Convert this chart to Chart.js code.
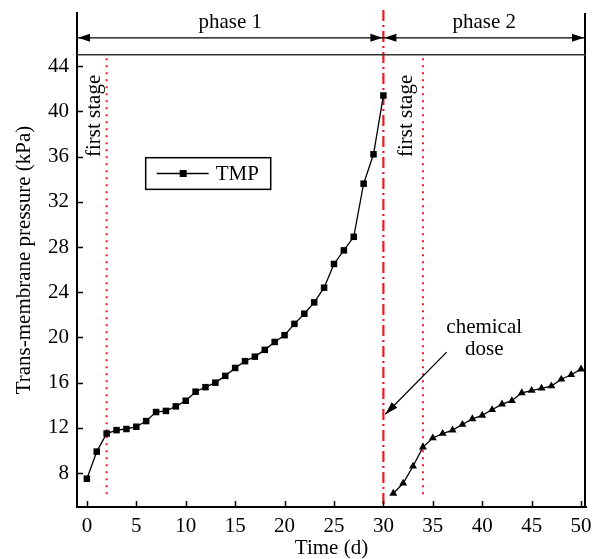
<!DOCTYPE html>
<html>
<head>
<meta charset="utf-8">
<script src="https://cdn.jsdelivr.net/npm/chart.js@4/dist/chart.umd.min.js"></script>
<style>
  body { margin: 0; background: #fff; }
  #box { width: 592px; height: 559px; }
</style>
</head>
<body>
<div id="box"><canvas id="grafico"></canvas></div>
<script>
// phase 1 (before chemical dose)
var dias1 = [0, 1, 2, 3, 4, 5, 6, 7, 8, 9, 10, 11, 12, 13, 14, 15, 16, 17, 18, 19, 20, 21, 22, 23, 24, 25, 26, 27, 28, 29, 30];
var tmp1 = [7.5, 9.9, 11.5, 11.8, 11.9, 12.1, 12.6, 13.4, 13.5, 13.9, 14.4, 15.2, 15.6, 16.0, 16.6, 17.3, 17.9, 18.3, 18.9, 19.6, 20.2, 21.2, 22.1, 23.1, 24.4, 26.5, 27.7, 28.9, 33.6, 36.2, 41.4];
// phase 2 (after chemical dose)
var dias2 = [31, 32, 33, 34, 35, 36, 37, 38, 39, 40, 41, 42, 43, 44, 45, 46, 47, 48, 49, 50];
var tmp2 = [6.2, 7.1, 8.6, 10.3, 11.1, 11.5, 11.8, 12.3, 12.8, 13.1, 13.6, 14.1, 14.4, 15.1, 15.3, 15.5, 15.7, 16.3, 16.7, 17.2];

var xTicks = [0, 5, 10, 15, 20, 25, 30, 35, 40, 45, 50];
var yTicks = [8, 12, 16, 20, 24, 28, 32, 36, 40, 44];
var diaDose = 30;
var diasFirstStage = [2, 34];
var fases = ["phase 1", "phase 2"];

var fonte = "'Liberation Serif', 'Times New Roman', serif";
var vermelho = "rgb(232, 28, 36)";

function pontos(xs, ys) {
  var lista = [];
  for (var i = 0; i < xs.length; i++) {
    lista.push({ x: xs[i], y: ys[i] });
  }
  return lista;
}

function seta(ctx, x1, y1, x2, y2, tam, larg) {
  var ang = Math.atan2(y2 - y1, x2 - x1);
  ctx.beginPath();
  ctx.moveTo(x2, y2);
  ctx.lineTo(x2 - tam * Math.cos(ang) + larg * Math.sin(ang), y2 - tam * Math.sin(ang) - larg * Math.cos(ang));
  ctx.lineTo(x2 - tam * Math.cos(ang) - larg * Math.sin(ang), y2 - tam * Math.sin(ang) + larg * Math.cos(ang));
  ctx.closePath();
  ctx.fill();
}

var anotacoes = {
  id: "anotacoes",
  beforeDatasetsDraw: function (chart) {
    var ctx = chart.ctx;
    var sx = chart.scales.x;
    var sy = chart.scales.y;
    var area = chart.chartArea;
    ctx.save();

    // linhas vermelhas pontilhadas (first stage)
    ctx.strokeStyle = vermelho;
    ctx.lineWidth = 2;
    ctx.setLineDash([2, 5]);
    for (var i = 0; i < diasFirstStage.length; i++) {
      var px = sx.getPixelForValue(diasFirstStage[i]);
      ctx.beginPath();
      ctx.moveTo(px, sy.getPixelForValue(44.7));
      ctx.lineTo(px, sy.getPixelForValue(5.8));
      ctx.stroke();
    }

    // traço-ponto no dia da dose química
    var pd = sx.getPixelForValue(diaDose);
    ctx.lineWidth = 2.2;
    ctx.setLineDash([11, 4, 2, 4]);
    ctx.beginPath();
    ctx.moveTo(pd, area.top - 3);
    ctx.lineTo(pd, area.bottom);
    ctx.stroke();
    ctx.restore();
  },
  afterDraw: function (chart) {
    var ctx = chart.ctx;
    var sx = chart.scales.x;
    var sy = chart.scales.y;
    var area = chart.chartArea;
    ctx.save();

    // ticks para dentro
    ctx.strokeStyle = "#000";
    ctx.lineWidth = 1.5;
    for (var t = 0; t < yTicks.length; t++) {
      var ty = Math.round(sy.getPixelForValue(yTicks[t])) + 0.5;
      ctx.beginPath();
      ctx.moveTo(area.left, ty);
      ctx.lineTo(area.left + 6, ty);
      ctx.stroke();
    }
    for (var k = 0; k < xTicks.length; k++) {
      var tx = Math.round(sx.getPixelForValue(xTicks[k])) + 0.5;
      ctx.beginPath();
      ctx.moveTo(tx, area.bottom);
      ctx.lineTo(tx, area.bottom - 6);
      ctx.stroke();
    }

    // borda direita e linha superior do gráfico
    ctx.lineWidth = 2;
    ctx.beginPath();
    ctx.moveTo(area.right - 1, area.top);
    ctx.lineTo(area.right - 1, area.bottom);
    ctx.stroke();

    ctx.strokeStyle = "#333";
    ctx.lineWidth = 1.5;
    var yTopo = sy.getPixelForValue(45);
    ctx.beginPath();
    ctx.moveTo(area.left, yTopo);
    ctx.lineTo(area.right, yTopo);
    ctx.stroke();

    // setas das fases
    var ySeta = sy.getPixelForValue(46.5);
    var pd = sx.getPixelForValue(diaDose);
    var limites = [[area.left, pd], [pd, area.right - 1]];
    ctx.strokeStyle = "#000";
    ctx.fillStyle = "#000";
    ctx.lineWidth = 1.3;
    ctx.font = "21px " + fonte;
    ctx.textAlign = "center";
    ctx.textBaseline = "middle";
    for (var i = 0; i < limites.length; i++) {
      var a = limites[i][0];
      var b = limites[i][1];
      ctx.beginPath();
      ctx.moveTo(a, ySeta);
      ctx.lineTo(b, ySeta);
      ctx.stroke();
      seta(ctx, b, ySeta, a + 1, ySeta, 12, 4);
      seta(ctx, a, ySeta, b - 1, ySeta, 12, 4);
      ctx.fillText(fases[i], (a + b) / 2, sy.getPixelForValue(47.9));
    }

    // textos "first stage" na vertical
    var posTexto = [0.8, 32.35];
    for (var j = 0; j < posTexto.length; j++) {
      ctx.save();
      ctx.translate(sx.getPixelForValue(posTexto[j]), sy.getPixelForValue(39.6));
      ctx.rotate(-Math.PI / 2);
      ctx.fillText("first stage", 0, 0);
      ctx.restore();
    }

    // chemical dose
    ctx.fillText("chemical", sx.getPixelForValue(40.2), sy.getPixelForValue(20.9));
    ctx.fillText("dose", sx.getPixelForValue(40.2), sy.getPixelForValue(18.9));
    var x1 = sx.getPixelForValue(36.4), y1 = sy.getPixelForValue(18.7);
    var x2 = sx.getPixelForValue(30.2), y2 = sy.getPixelForValue(13.2);
    ctx.lineWidth = 1.3;
    ctx.beginPath();
    ctx.moveTo(x1, y1);
    ctx.lineTo(x2, y2);
    ctx.stroke();
    seta(ctx, x1, y1, x2, y2, 13, 4);

    // legenda
    var lx1 = sx.getPixelForValue(5.95), lx2 = sx.getPixelForValue(18.6);
    var ly1 = sy.getPixelForValue(35.9), ly2 = sy.getPixelForValue(33.1);
    ctx.lineWidth = 1.5;
    ctx.strokeRect(lx1, ly1, lx2 - lx1, ly2 - ly1);
    var lyM = (ly1 + ly2) / 2;
    ctx.beginPath();
    ctx.moveTo(lx1 + 11, lyM);
    ctx.lineTo(lx1 + 63, lyM);
    ctx.stroke();
    ctx.fillRect(lx1 + 34, lyM - 3.5, 7, 7);
    ctx.textAlign = "left";
    ctx.fillText("TMP", lx1 + 70, lyM + 1);

    ctx.restore();
  }
};

var ctx = document.getElementById("grafico").getContext("2d");

var grafico = new Chart(ctx, {
  type: "line",
  data: {
    datasets: [
      {
        label: "TMP",
        data: pontos(dias1, tmp1),
        borderColor: "#000",
        borderWidth: 1.3,
        pointStyle: "rect",
        pointRadius: 4.6,
        pointBackgroundColor: "#000",
        pointBorderColor: "#000",
        pointBorderWidth: 0,
        tension: 0,
        fill: false,
      },
      {
        label: "TMP phase 2",
        data: pontos(dias2, tmp2),
        borderColor: "#000",
        borderWidth: 1.3,
        pointStyle: "triangle",
        pointRadius: 4.6,
        pointBackgroundColor: "#000",
        pointBorderColor: "#000",
        pointBorderWidth: 0,
        tension: 0,
        fill: false,
      },
    ],
  },
  options: {
    responsive: true,
    maintainAspectRatio: false,
    animation: false,
    layout: {
      padding: { top: 13, right: 6, left: 0, bottom: 0 },
    },
    plugins: {
      legend: { display: false },
      tooltip: { enabled: false },
    },
    scales: {
      x: {
        type: "linear",
        min: -1,
        max: 50.5,
        afterBuildTicks: function (eixo) {
          eixo.ticks = xTicks.map(function (v) { return { value: v }; });
        },
        afterFit: function (eixo) {
          eixo.height = 52;
          eixo.paddingLeft = 0;
          eixo.paddingRight = 0;
        },
        border: { display: true, color: "#000", width: 2 },
        grid: { display: true, drawOnChartArea: false, drawTicks: false },
        ticks: {
          color: "#000",
          padding: 7,
          maxRotation: 0,
          font: { family: fonte, size: 21 },
        },
        title: {
          display: true,
          text: "Time (d)",
          color: "#000",
          padding: { top: 0, bottom: 0 },
          font: { family: fonte, size: 21, lineHeight: 1 },
        },
      },
      y: {
        type: "linear",
        min: 5,
        max: 48.7,
        afterBuildTicks: function (eixo) {
          eixo.ticks = yTicks.map(function (v) { return { value: v }; });
        },
        afterFit: function (eixo) {
          eixo.width = 77;
          eixo.paddingTop = 0;
          eixo.paddingBottom = 0;
        },
        border: { display: true, color: "#000", width: 2 },
        grid: { display: true, drawOnChartArea: false, drawTicks: false },
        ticks: {
          color: "#000",
          padding: 8,
          font: { family: fonte, size: 21 },
        },
        title: {
          display: true,
          text: "Trans-membrane pressure (kPa)",
          color: "#000",
          padding: { top: 12, bottom: 0 },
          font: { family: fonte, size: 21 },
        },
      },
    },
  },
  plugins: [anotacoes],
});
</script>
</body>
</html>
